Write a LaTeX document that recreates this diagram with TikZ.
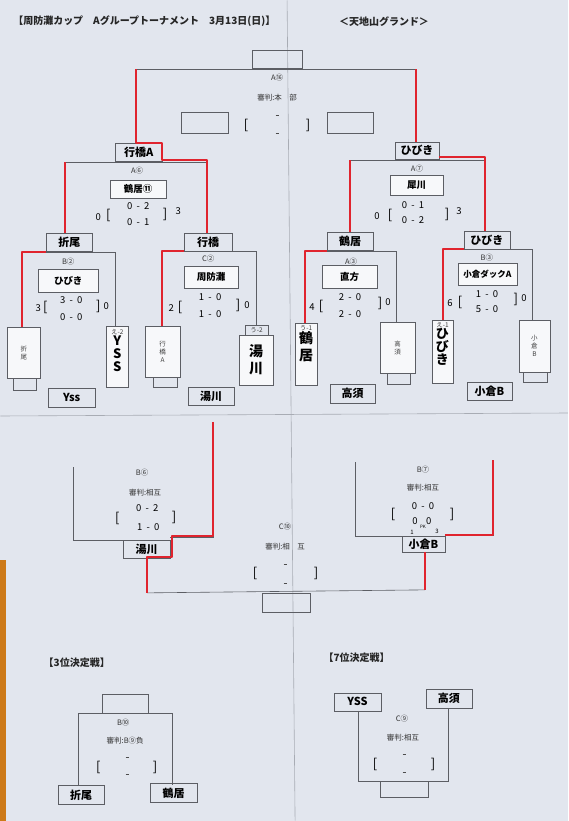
\documentclass[tikz,border=0pt]{standalone}
\usepackage{fontspec}
\usepackage{tikz}
\usetikzlibrary{positioning}
\newfontfamily\jpfont{Noto Sans CJK JP}
\definecolor{paper}{RGB}{226,230,238}
\definecolor{slip}{RGB}{247,248,250}
\definecolor{ink}{RGB}{92,94,100}
\definecolor{markred}{RGB}{224,36,46}
\definecolor{fold}{RGB}{168,172,180}
\definecolor{desk}{RGB}{205,122,24}

\begin{document}
\begin{tikzpicture}[x=1pt,y=-1pt,
  every node/.style={inner sep=0pt,outer sep=0pt},
  frame/.style={draw=ink,line width=0.5pt,rectangle},
  card/.style={frame,fill=slip},
  print/.style={font=\jpfont\fontsize{7.5}{9}\selectfont,text=black!80},
  dashmark/.style={text=black!70},
  small/.style={font=\jpfont\fontsize{6.5}{8}\selectfont,text=black!75,align=center},
  heading/.style={font=\jpfont\bfseries\fontsize{10}{11}\selectfont,text=black!85},
  nameplate/.style={font=\jpfont\bfseries\fontsize{9.5}{11}\selectfont,text=black},
  pen/.style={font=\jpfont\bfseries\fontsize{11}{12}\selectfont,text=black},
  bigpen/.style={font=\jpfont\bfseries\fontsize{13}{13}\selectfont,text=black,align=center},
  score/.style={font=\jpfont\fontsize{9.5}{10}\selectfont,text=black},
  brk/.style={font=\jpfont\fontsize{13}{14}\selectfont,text=black},
  line/.style={draw=ink,line width=0.6pt},
  marker/.style={draw=markred,line width=2.4pt,line join=round}]

  % paper
  \fill[paper] (0,0) rectangle (568,821);
  \fill[desk] (0,560) rectangle (6,821);
  \draw[fold,line width=0.6pt] (287,0) -- (295,821);
  \draw[fold,line width=0.6pt] (0,416) -- (568,413);

  \node[heading,anchor=west] (title) at (13,21) {【周防灘カップ　Aグループトーナメント　3月13日(日)】};
  \node[heading,anchor=west] (ground) at (339,21) {＜天地山グランド＞};

  % final A16
  \node[frame,minimum width=50,minimum height=18] (finwin) at (277.5,59) {};
  \node[frame,minimum width=47,minimum height=21] (finL) at (204.5,122.5) {};
  \node[frame,minimum width=46,minimum height=21] (finR) at (350,122.5) {};
  \node[print] (A16) at (277,77) {A⑯};
  \node[print] (ref16) at (277,97) {審判:本　部};
  \node[brk] (lb16) at (246,125) {[};
  \node[brk] (rb16) at (308,125) {]};
  \node[dashmark] (d16a) at (277,115) {\rule{3pt}{0.6pt}};
  \node[dashmark] (d16b) at (277,133) {\rule{3pt}{0.6pt}};
  \draw[line] (136,69) -- (416,69);

  % semifinals
  \node[frame,pen,minimum width=47,minimum height=18] (semiL) at (138.5,152) {行橋A};
  \node[frame,pen,minimum width=44,minimum height=17] (semiR) at (417,150.5) {ひびき};
  \draw[line] (65,233) -- (65,162) -- (207,162) -- (207,233);
  \draw[line] (350,232) -- (350,160) -- (485,160) -- (485,231);
  \node[print] (A6) at (137,170) {A⑥};
  \node[print] (A7) at (417,168) {A⑦};
  \node[card,nameplate,minimum width=56,minimum height=18] (nA6) at (138,189) {鶴居⑪};
  \node[card,nameplate,minimum width=53,minimum height=20] (nA7) at (416.5,185) {犀川};
  \node[score] (sA6l) at (98,217) {0};
  \node[brk] (bA6l) at (108,215) {[};
  \node[score] (sA6a) at (138,206) {0~~-~~2};
  \node[score] (sA6b) at (138,222) {0~~-~~1};
  \node[brk] (bA6r) at (165,214) {]};
  \node[score] (sA6r) at (178,211) {3};
  \node[score] (sA7l) at (377,216) {0};
  \node[brk] (bA7l) at (390,215) {[};
  \node[score] (sA7a) at (413,205) {0~~-~~1};
  \node[score] (sA7b) at (413,220) {0~~-~~2};
  \node[brk] (bA7r) at (447,214) {]};
  \node[score] (sA7r) at (459,211) {3};

  % quarterfinals
  \node[frame,pen,minimum width=46,minimum height=18] (qB2) at (69,242) {折尾};
  \node[frame,pen,minimum width=48,minimum height=18] (qC2) at (208,242) {行橋};
  \node[frame,pen,minimum width=46,minimum height=18] (qA3) at (350,241) {鶴居};
  \node[frame,pen,minimum width=46,minimum height=18] (qB3) at (487,240) {ひびき};
  \draw[line] (22,327) -- (22,252) -- (115,252) -- (115,326);
  \draw[line] (162,326) -- (162,251) -- (256,251) -- (256,325);
  \draw[line] (305,323) -- (305,251) -- (396,251) -- (396,322);
  \draw[line] (443,320) -- (443,249) -- (532,249) -- (532,320);
  \node[print] (B2) at (68,262) {B②};
  \node[print] (C2) at (208,259) {C②};
  \node[print] (A3) at (351,262) {A③};
  \node[print] (B3) at (487,258) {B③};
  \node[card,nameplate,minimum width=60,minimum height=23] (nB2) at (68,280.5) {ひびき};
  \node[card,nameplate,minimum width=54,minimum height=22] (nC2) at (211,277) {周防灘};
  \node[card,nameplate,minimum width=55,minimum height=23] (nA3) at (349.5,276.5) {直方};
  \node[card,nameplate,font=\jpfont\bfseries\fontsize{8.5}{10}\selectfont,minimum width=59,minimum height=22] (nB3) at (487.5,274) {小倉ダックA};
  % scores
  \node[score] (sB2l) at (38,308) {3};
  \node[brk] (bB2l) at (45,307) {[};
  \node[score] (sB2a) at (71,300) {3~~-~~0};
  \node[score] (sB2b) at (71,317) {0~~-~~0};
  \node[brk] (bB2r) at (98,306) {]};
  \node[score] (sB2r) at (106,306) {0};
  \node[score] (sC2l) at (171,308) {2};
  \node[brk] (bC2l) at (180,307) {[};
  \node[score] (sC2a) at (210,297) {1~~-~~0};
  \node[score] (sC2b) at (210,314) {1~~-~~0};
  \node[brk] (bC2r) at (238,305) {]};
  \node[score] (sC2r) at (247,305) {0};
  \node[score] (sA3l) at (312,307) {4};
  \node[brk] (bA3l) at (321,306) {[};
  \node[score] (sA3a) at (350,297) {2~~-~~0};
  \node[score] (sA3b) at (350,314) {2~~-~~0};
  \node[brk] (bA3r) at (380,303) {]};
  \node[score] (sA3r) at (388,302) {0};
  \node[score] (sB3l) at (450,303) {6};
  \node[brk] (bB3l) at (460,302) {[};
  \node[score] (sB3a) at (487,294) {1~~-~~0};
  \node[score] (sB3b) at (487,309) {5~~-~~0};
  \node[brk] (bB3r) at (516,299) {]};
  \node[score] (sB3r) at (524,298) {0};

  % first round cards
  \node[frame,minimum width=23,minimum height=12] (t1s) at (24.5,384) {};
  \node[frame,minimum width=24,minimum height=10] (t3s) at (165,382) {};
  \node[frame,minimum width=23,minimum height=11] (t6s) at (398.5,378.5) {};
  \node[frame,minimum width=24,minimum height=10] (t8s) at (535,377) {};
  \node[frame,minimum width=23,minimum height=10] (t4s) at (256.5,330) {};
  \node[card,small,minimum width=33,minimum height=51] (t1) at (23.5,352.5) {折\\尾};
  \node[card,minimum width=22,minimum height=61] (t2) at (117,356.5) {};
  \node[small,below=3pt of t2.north] (t2tag) {え-2};
  \node[bigpen,below=1pt of t2tag] {Y\\S\\S};
  \node[card,small,minimum width=35,minimum height=51] (t3) at (162.5,351.5) {行\\橋\\A};
  \node[small] (t4tag) at (t4s) {う-2};
  \node[card,bigpen,font=\jpfont\bfseries\fontsize{14}{17}\selectfont,minimum width=34,minimum height=50] (t4) at (256,360) {湯\\川};
  \node[card,minimum width=22,minimum height=62] (t5) at (306,354) {};
  \node[small,below=2pt of t5.north] (t5tag) {う-1};
  \node[bigpen,font=\jpfont\bfseries\fontsize{14}{17}\selectfont,below=1pt of t5tag] {鶴\\居};
  \node[card,small,minimum width=35,minimum height=51] (t6) at (397.5,347.5) {高\\須};
  \node[card,minimum width=21,minimum height=63] (t7) at (442.5,351.5) {};
  \node[small,below=2pt of t7.north] (t7tag) {え-1};
  \node[bigpen,below=1pt of t7tag] {ひ\\び\\き};
  \node[card,small,minimum width=31,minimum height=52] (t8) at (534.5,346) {小\\倉\\B};

  \node[frame,pen,minimum width=47,minimum height=19] (lo1) at (71.5,397.5) {Yss};
  \node[frame,pen,minimum width=46,minimum height=18] (lo2) at (211,396) {湯川};
  \node[frame,pen,minimum width=45,minimum height=19] (lo3) at (352.5,393.5) {高須};
  \node[frame,pen,minimum width=45,minimum height=18] (lo4) at (489.5,391) {小倉B};

  % red marks upper half
  \draw[marker] (136,69) -- (136,143) -- (semiL.north east) -- (162,160) -- (207,160) -- (207,233);
  \draw[marker] (416,69) -- (416,142);
  \draw[marker] (439,157) -- (485,157) -- (485,231);
  \draw[marker] (65,162) -- (65,233);
  \draw[marker] (350,160) -- (350,232);
  \draw[marker] (22,327) -- (22,252) -- (46,252);
  \draw[marker] (162,326) -- (162,251) -- (184,251);
  \draw[marker] (305,323) -- (305,251) -- (327,251);
  \draw[marker] (443,320) -- (443,249) -- (464,249);

  % lower bracket
  \node[frame,pen,minimum width=47,minimum height=18] (b6w) at (146.5,549) {湯川};
  \node[frame,pen,minimum width=43,minimum height=16] (b7w) at (423.5,544) {小倉B};
  \node[frame,minimum width=48,minimum height=19] (c10w) at (286,602.5) {};
  \draw[line] (123,540) -- (73,540) -- (73,467);
  \draw[line] (170,537) -- (213,537) -- (213,467);
  \draw[line] (402,536) -- (355,536) -- (355,462);
  \draw[line] (445,535) -- (493,535) -- (493,460);
  \draw[line] (147,593) -- (425,590);
  \node[print] (B6) at (142,473) {B⑥};
  \node[print] (ref6) at (145,493) {審判:相互};
  \node[score] (sB6a) at (147,508) {0~~-~~2};
  \node[score] (sB6b) at (148,527) {1~~-~~0};
  \node[brk] (bB6l) at (117,519) {[};
  \node[brk] (bB6r) at (174,518) {]};
  \node[print] (B7) at (423,470) {B⑦};
  \node[print] (ref7) at (423,488) {審判:相互};
  \node[score] (sB7a) at (423,506) {0~~-~~0};
  \node[score] (sB7b) at (422,521) {0~~~~0};
  \node[font=\jpfont\fontsize{4.5}{5}\selectfont] (pk) at (423,527) {PK};
  \node[font=\jpfont\fontsize{6}{6}\selectfont] (pk1) at (412,532) {1};
  \node[font=\jpfont\fontsize{6}{6}\selectfont] (pk3) at (437,531) {3};
  \node[brk] (bB7l) at (393,515) {[};
  \node[brk] (bB7r) at (452,515) {]};
  \node[print] (C10) at (285,527) {C⑩};
  \node[print] (ref10) at (285,547) {審判:相　互};
  \node[brk] (bC10l) at (255,574) {[};
  \node[brk] (bC10r) at (316,574) {]};
  \node[dashmark] (d10a) at (285,564) {\rule{3pt}{0.6pt}};
  \node[dashmark] (d10b) at (285,583) {\rule{3pt}{0.6pt}};
  \draw[marker] (213,422) -- (213,536) -- (172,536) -- (172,557) -- (147,557) -- (147,593);
  \draw[marker] (445,535) -- (493,535) -- (493,460);
  \draw[marker] (425,552) -- (425,590);

  % 3rd place
  \node[heading] (third) at (76.5,663) {【3位決定戦】};
  \node[frame,minimum width=46,minimum height=19] (w3) at (125,703.5) {};
  \draw[line] (78,785) -- (78,714) -- (172,714) -- (172,785);
  \node[frame,pen,minimum width=46,minimum height=19] (p3a) at (81,795.5) {折尾};
  \node[frame,pen,minimum width=47,minimum height=19] (p3b) at (173.5,793.5) {鶴居};
  \node[print] (B10) at (123,723) {B⑩};
  \node[print] (ref10b) at (125,741) {審判:B⑨負};
  \node[brk] (b3l) at (98,768) {[};
  \node[brk] (b3r) at (155,768) {]};
  \node[dashmark] (d3a) at (127,758) {\rule{3pt}{0.6pt}};
  \node[dashmark] (d3b) at (127,775) {\rule{3pt}{0.6pt}};

  % 7th place
  \node[heading] (seventh) at (356.5,658) {【7位決定戦】};
  \node[frame,pen,minimum width=47,minimum height=18] (p7a) at (357.5,702) {YSS};
  \node[frame,pen,minimum width=46,minimum height=19] (p7b) at (449,698.5) {高須};
  \draw[line] (358,711) -- (358,782) -- (448,782) -- (448,708);
  \node[frame,minimum width=48,minimum height=16] (w7) at (404,790) {};
  \node[print] (C9) at (402,719) {C⑨};
  \node[print] (ref9) at (403,738) {審判:相互};
  \node[brk] (b7l) at (375,765) {[};
  \node[brk] (b7r) at (433,765) {]};
  \node[dashmark] (d7a) at (404,755) {\rule{3pt}{0.6pt}};
  \node[dashmark] (d7b) at (404,773) {\rule{3pt}{0.6pt}};
\end{tikzpicture}
\end{document}
